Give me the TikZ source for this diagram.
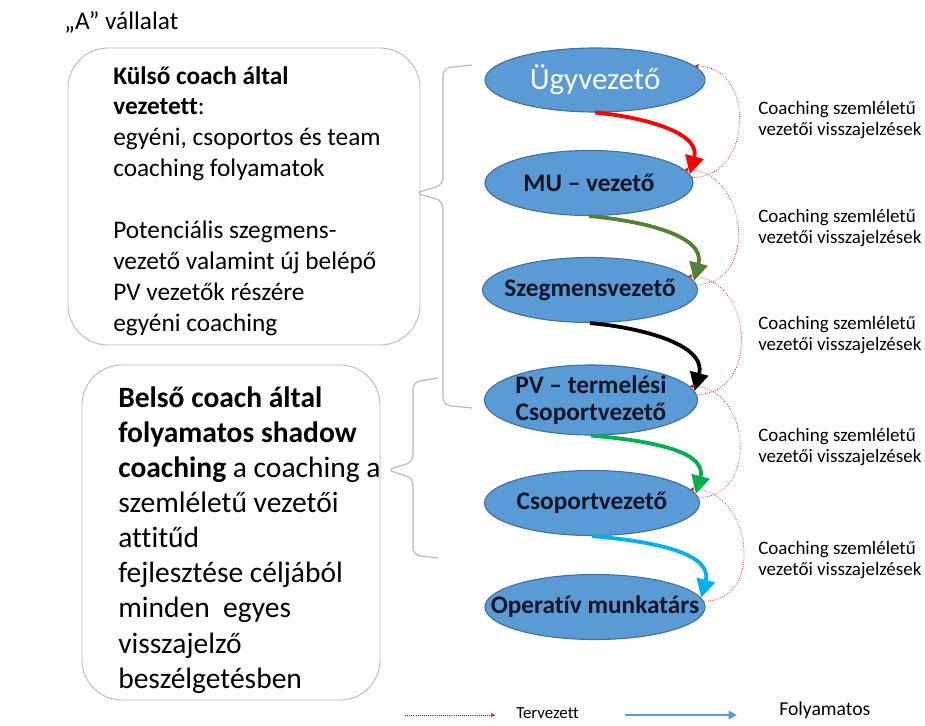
\documentclass[tikz,border=0pt]{standalone}
\usepackage{fontspec}
\setmainfont{Carlito}[Ligatures={NoCommon,NoContextual}, Contextuals=NoAlternate]
\usetikzlibrary{arrows.meta,shapes.geometric}

\definecolor{nodeblue}{HTML}{5B9BD5}
\definecolor{nodeline}{HTML}{41719C}
\definecolor{boxline}{HTML}{AEB8C6}
\definecolor{leafgreen}{HTML}{538135}
\definecolor{brightgreen}{HTML}{00B050}
\definecolor{skyblue}{HTML}{00B0F0}
\definecolor{darktext}{HTML}{0B1526}

\begin{document}
\begin{tikzpicture}[
  level/.style={ellipse, draw=nodeline, fill=nodeblue, line width=0.8pt, minimum width=5.4cm, minimum height=1.625cm, inner sep=0pt},
  lvltext/.style={font=\fontsize{18}{19}\selectfont\bfseries, text=darktext, align=center, inner sep=0pt},
  infobox/.style={draw=boxline, rounded corners=1cm, line width=0.6pt},
  flow/.style={line width=2.7pt, -{Triangle[length=13pt,width=13pt]}},
  plan/.style={red, densely dotted, line width=0.5pt, -{Stealth[length=3pt,width=3pt]}},
  fb/.style={font=\fontsize{13.5}{14.5}\selectfont, align=left, anchor=west, inner sep=0pt},
  clamp/.style={draw=boxline, line width=0.8pt, rounded corners=5pt},
  >=Stealth
]
\path[use as bounding box, fill=white] (0,0) rectangle (23.125,-18.125);

\node[anchor=west, font=\fontsize{18}{20}\selectfont, inner sep=0pt] (title) at (1.6,-0.55) {„A” vállalat};

\node[infobox, minimum width=8.8cm, minimum height=7.425cm] (extbox) at (6.1,-4.9125) {};
\node[anchor=north west, align=left, inner sep=0pt, font=\fontsize{18}{22}\selectfont] (exttext) at (2.825,-1.65)
  {\textbf{Külső coach által}\\\textbf{vezetett}:\\egyéni, csoportos és team\\coaching folyamatok\\[22pt]Potenciális szegmens-\\vezető valamint új belépő\\PV vezetők részére\\egyéni coaching};

\node[infobox, minimum width=7.45cm, minimum height=8.375cm] (intbox) at (5.775,-13.3125) {};
\node[anchor=north west, align=left, inner sep=0pt, font=\fontsize{21}{25}\selectfont] (inttext) at (2.95,-9.65)
  {\textbf{Belső coach által}\\\textbf{folyamatos shadow}\\\textbf{coaching} a coaching a\\szemléletű vezetői\\attitűd\\fejlesztése céljából\\minden\ \ egyes\\visszajelző\\beszélgetésben};

\draw[clamp] (11.8,-1.625) -- (11.075,-1.7) -- (11.075,-4.625) -- (10.375,-4.825) -- (11.075,-5.025) -- (11.075,-10.125) -- (11.8,-10.2);
\draw[clamp] (10.95,-9.45) -- (10.325,-9.55) -- (10.325,-11.55) -- (9.675,-11.75) -- (10.325,-11.95) -- (10.325,-13.875) -- (10.95,-13.95);

\node[level, minimum width=5.5cm, minimum height=1.6cm, label={[lvltext, font=\fontsize{22}{24}\selectfont, text=white]center:Ügyvezető}] (ugy) at (14.875,-2.0) {};
\node[level, minimum width=5.2cm, label={[lvltext]center:MU – vezető}] (mu) at (14.725,-4.575) {};
\node[level, minimum width=5.375cm, label={[lvltext]center:Szegmensvezető}] (szeg) at (14.75,-7.25) {};
\node[level, minimum width=5.325cm, minimum height=1.75cm, label={[lvltext]center:PV – termelési\\Csoportvezető}] (pv) at (14.775,-10.0) {};
\node[level, minimum width=5.375cm, label={[lvltext]center:Csoportvezető}] (csop) at (14.8,-12.575) {};
\node[level, minimum width=5.5cm, label={[lvltext]center:Operatív munkatárs}] (oper) at (14.875,-15.175) {};

\draw[flow, red] (ugy.south) to[out=-5,in=75] (mu.5);
\draw[flow, leafgreen] (mu.south) to[out=-5,in=75] (szeg.5);
\draw[flow, black] (szeg.south) to[out=-5,in=75] (pv.5);
\draw[flow, brightgreen] (pv.south) to[out=-5,in=75] (csop.5);
\draw[flow, skyblue] (csop.south) to[out=-5,in=75] (oper.5);

\draw[plan] (mu.3) to[out=0,in=0,looseness=1.4] (ugy.8);
\draw[plan] (szeg.3) to[out=0,in=0,looseness=1.4] (mu.8);
\draw[plan] (pv.3) to[out=0,in=0,looseness=1.4] (szeg.8);
\draw[plan] (csop.3) to[out=0,in=0,looseness=1.4] (pv.8);
\draw[plan] (oper.3) to[out=0,in=0,looseness=1.4] (csop.8);

\node[fb] (fb1) at (18.95,-3.0) {Coaching szemléletű\\vezetői visszajelzések};
\node[fb] (fb2) at (18.95,-5.7) {Coaching szemléletű\\vezetői visszajelzések};
\node[fb] (fb3) at (18.95,-8.375) {Coaching szemléletű\\vezetői visszajelzések};
\node[fb] (fb4) at (18.95,-11.175) {Coaching szemléletű\\vezetői visszajelzések};
\node[fb] (fb5) at (18.95,-14.0) {Coaching szemléletű\\vezetői visszajelzések};

\coordinate (planA) at (10.125,-17.875);
\coordinate (planB) at (12.375,-17.875);
\draw[plan] (planA) -- (planB);
\node[anchor=west, inner sep=0pt, font=\fontsize{12}{14}\selectfont] (plantext) at (12.9,-17.82) {Tervezett};
\coordinate (flowA) at (15.625,-17.875);
\coordinate (flowB) at (18.425,-17.875);
\draw[nodeblue, line width=1.5pt, -{Triangle[length=6pt,width=6pt]}] (flowA) -- (flowB);
\node[anchor=west, inner sep=0pt, font=\fontsize{14}{16}\selectfont] (flowtext) at (19.475,-17.75) {Folyamatos};
\end{tikzpicture}
\end{document}
